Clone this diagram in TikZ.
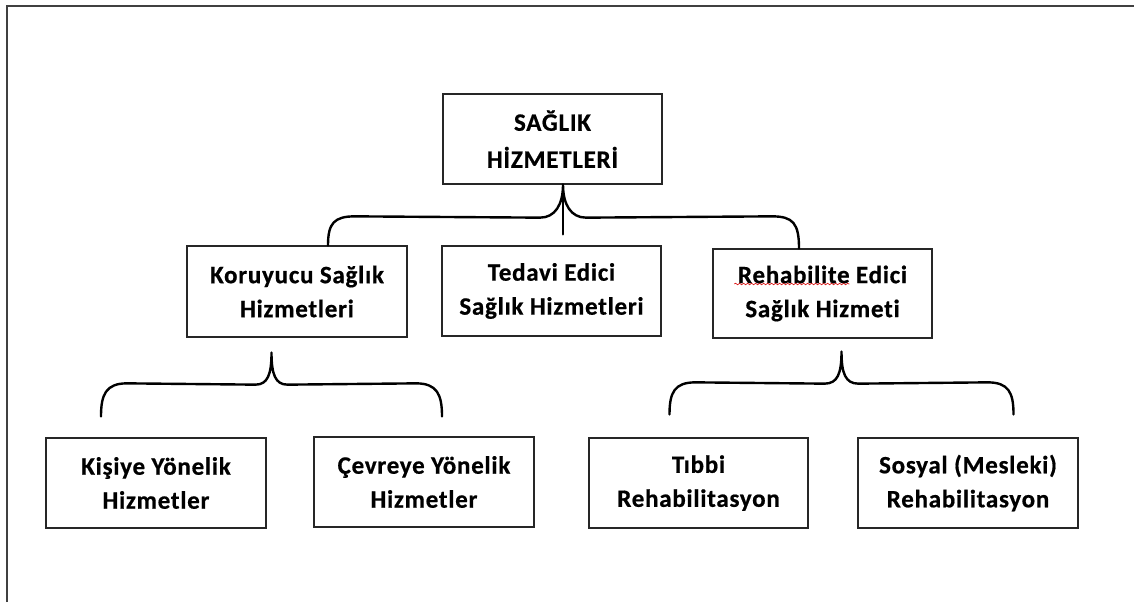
\documentclass[tikz,border=0pt]{standalone}
\usepackage{fontspec}
\setmainfont{Carlito}
\newfontfamily\boxfont[LetterSpace=3,Ligatures=NoCommon,BoldFeatures={FakeBold=0.6}]{Carlito}
\usetikzlibrary{calc,decorations.pathmorphing}
\begin{document}
\begin{tikzpicture}[x=1pt,y=-1pt,
  box/.style={draw=black!85,line width=1.3pt,fill=white,inner sep=0pt,
    minimum width=220pt,minimum height=90pt,align=center,
    font=\boxfont\fontsize{25}{34}\selectfont\bfseries},
  brace/.style={draw=black,line width=2.4pt,line cap=round,line join=round}]
\useasboundingbox (0,0) rectangle (1134,602);
\draw[draw=black!75,line width=2pt] (7,602) -- (7,6) -- (1134,6);
\node[box,minimum width=219pt,font=\boxfont\fontsize{25}{37}\selectfont\bfseries] (top) at (552.5,139) {SAĞLIK\\HİZMETLERİ};
\node[box,minimum height=91pt] (kor) at (297,291.5) {Koruyucu Sağlık\\Hizmetleri};
\node[box,minimum width=219pt] (ted) at (551.5,291) {Tedavi Edici\\Sağlık Hizmetleri};
\node[box,minimum width=219pt,minimum height=89pt] (reh) at (822.5,293.5) {Rehabilite Edici\\Sağlık Hizmeti};
\node[box] (kis) at (156,483) {Kişiye Yönelik\\Hizmetler};
\node[box] (cev) at (424,482) {Çevreye Yönelik\\Hizmetler};
\node[box,minimum width=219pt] (tib) at (698.5,483) {Tıbbi\\Rehabilitasyon};
\node[box] (sos) at (968,483) {Sosyal (Mesleki)\\Rehabilitasyon};
% top brace
\coordinate (tt) at ($(top.south)+(10.5,0)$);
\coordinate (tl) at ($(kor.north)+(31,0)$);
\coordinate (tr) at ($(reh.north)+(-23.5,0)$);
\coordinate (tm) at ($(ted.north)+(11.5,-11)$);
\draw[brace] (tl) .. controls ($(tl)+(0,-22)$) and ($(tl)+(6,-29)$) .. ($(tl)+(27,-29)$)
  -- ($(tt)+(-23,33)$) .. controls ($(tt)+(-8,33)$) and ($(tt)+(0,20)$) .. (tt)
  .. controls ($(tt)+(0,20)$) and ($(tt)+(8,33)$) .. ($(tt)+(23,33)$)
  -- ($(tr)+(-27,-32)$) .. controls ($(tr)+(-6,-32)$) and ($(tr)+(0,-25)$) .. (tr);
\draw[brace] (tt) -- (tm);
% left brace
\coordinate (lt) at ($(kor.south)+(-25.5,15)$);
\coordinate (ll) at ($(kis.north)+(-55,-21)$);
\coordinate (lr) at ($(cev.north)+(18,-20)$);
\draw[brace] (ll) .. controls ($(ll)+(0,-22)$) and ($(ll)+(5,-33)$) .. ($(ll)+(26,-33)$)
  -- ($(lt)+(-16,32)$) .. controls ($(lt)+(-4,32)$) and ($(lt)+(0,22)$) .. (lt)
  .. controls ($(lt)+(0,22)$) and ($(lt)+(4,32)$) .. ($(lt)+(16,32)$)
  -- ($(lr)+(-26,-33)$) .. controls ($(lr)+(-5,-33)$) and ($(lr)+(0,-22)$) .. (lr);
% right brace
\coordinate (rt) at ($(reh.south)+(19,13)$);
\coordinate (rl) at ($(tib.north)+(-29,-23)$);
\coordinate (rr) at ($(sos.north)+(45.5,-23)$);
\draw[brace] (rl) .. controls ($(rl)+(0,-22)$) and ($(rl)+(5,-32)$) .. ($(rl)+(26,-32)$)
  -- ($(rt)+(-17,32)$) .. controls ($(rt)+(-4,32)$) and ($(rt)+(0,22)$) .. (rt)
  .. controls ($(rt)+(0,22)$) and ($(rt)+(4,32)$) .. ($(rt)+(17,32)$)
  -- ($(rr)+(-26,-32)$) .. controls ($(rr)+(-5,-32)$) and ($(rr)+(0,-22)$) .. (rr);
% spell-check squiggle
\coordinate (sq1) at ($(reh.west)+(22,-9.5)$);
\coordinate (sq2) at ($(reh.west)+(137,-9.5)$);
\draw[red!85!black,line width=0.6pt,decorate,decoration={snake,amplitude=0.8pt,segment length=4pt}] (sq1) -- (sq2);
\end{tikzpicture}
\end{document}
